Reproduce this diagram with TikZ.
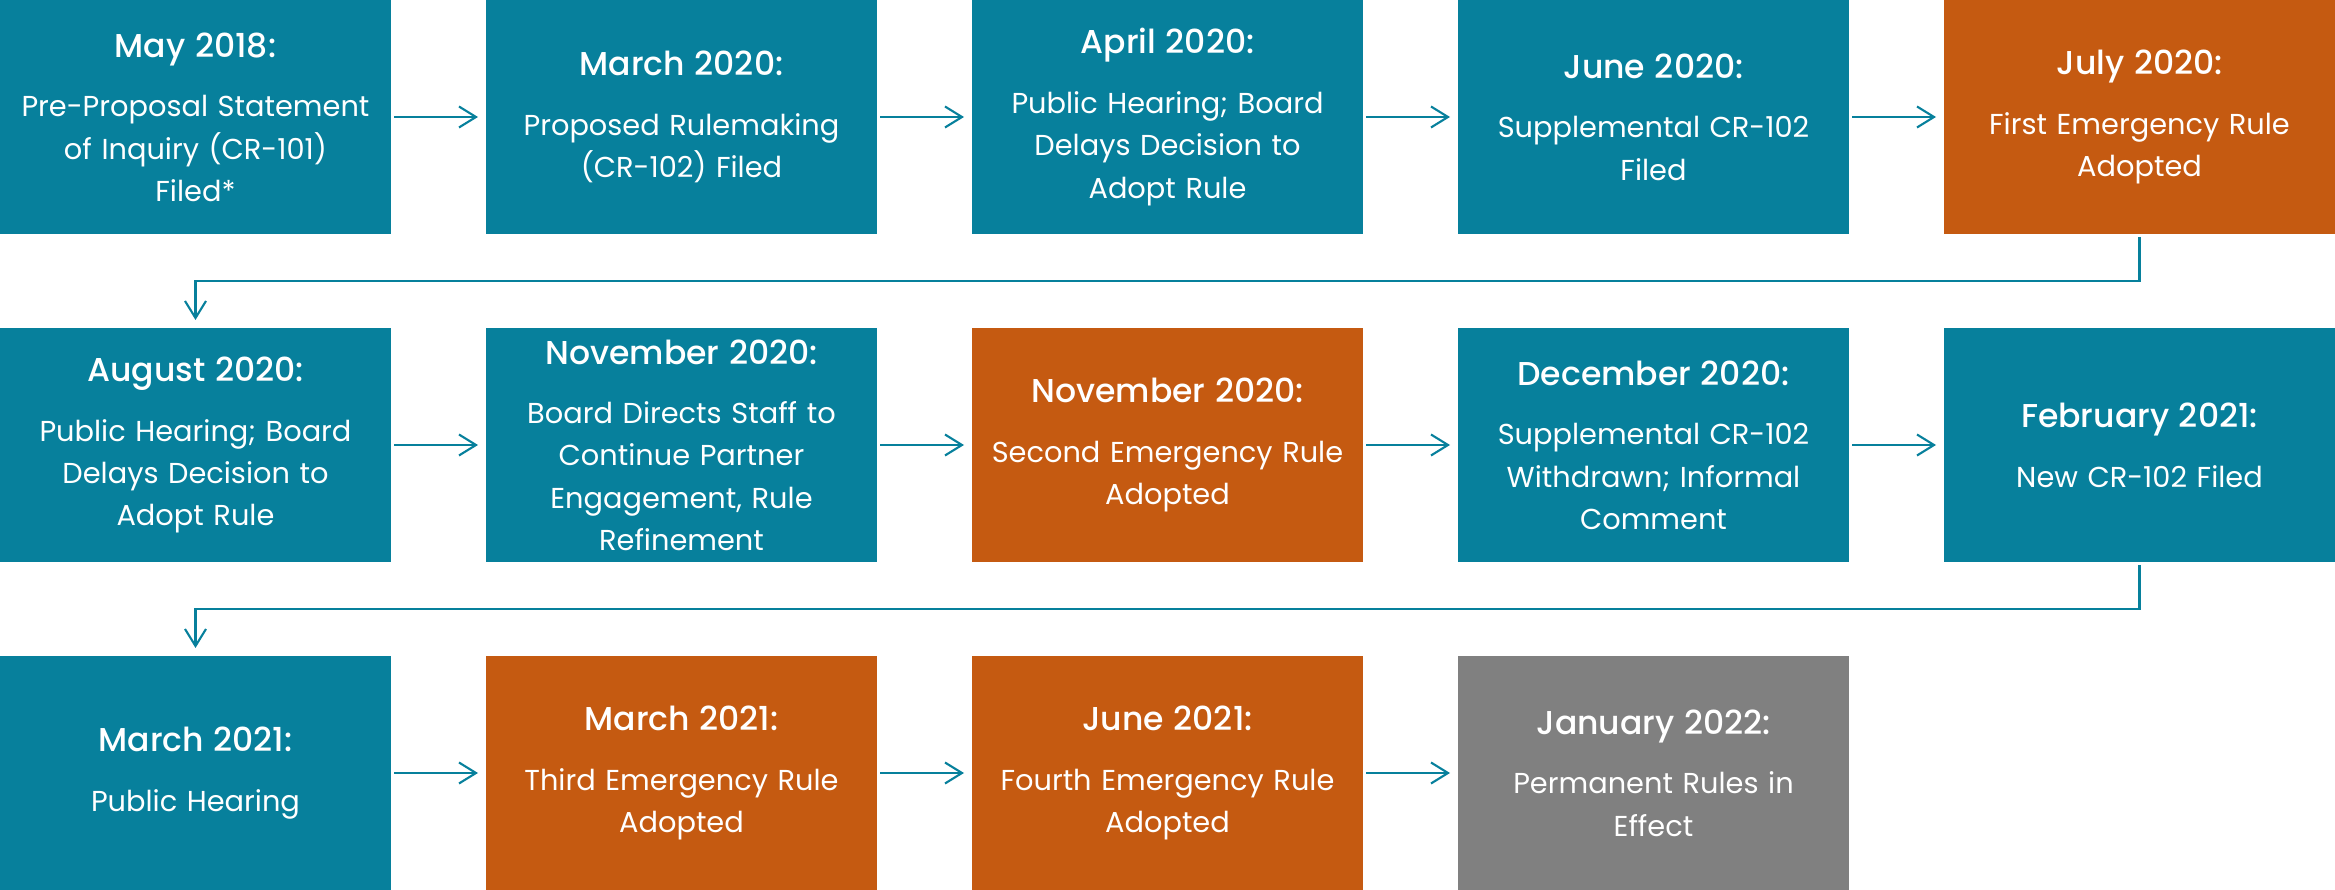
\documentclass[tikz,border=0pt]{standalone}
\usepackage{fontspec}
\setmainfont{Poppins}[BoldFont={Poppins Medium}]
\usetikzlibrary{positioning, arrows.meta}

\definecolor{tealbox}{HTML}{07809C}
\definecolor{rustbox}{HTML}{C55A11}
\definecolor{greybox}{HTML}{808080}

\tikzset{
  stage/.style={fill=tealbox, text=white, minimum width=3.91cm, minimum height=2.34cm,
    text width=3.85cm, align=center, inner sep=0pt, outer sep=0pt,
    font=\fontsize{8.2}{12}\selectfont},
  emergency/.style={stage, fill=rustbox},
  final/.style={stage, fill=greybox},
  flow/.style={draw=tealbox, line width=0.6pt, -{Straight Barb[length=1.7mm, width=2.1mm]},
    shorten <=0.3mm, shorten >=0.8mm},
}
% date line on top of each box
\newcommand{\when}[1]{{\fontsize{9.4}{12}\selectfont\bfseries #1}\\[5pt]}

\begin{document}
\begin{tikzpicture}[node distance=0.95cm and 0.95cm]
\useasboundingbox (0,0) rectangle (23.35,-8.90);

% first row
\node[stage, anchor=north west] (may18) at (0,0) {\when{May 2018:}Pre-Proposal Statement\\of Inquiry (CR-101)\\Filed*};
\node[stage, right=of may18] (mar20) {\when{March 2020:}Proposed Rulemaking\\(CR-102) Filed};
\node[stage, right=of mar20] (apr20) {\when{April 2020:}Public Hearing; Board\\Delays Decision to\\Adopt Rule};
\node[stage, right=of apr20] (jun20) {\when{June 2020:}Supplemental CR-102\\Filed};
\node[emergency, right=of jun20] (jul20) {\when{July 2020:}First Emergency Rule\\Adopted};

% second row
\node[stage, below=0.94cm of may18] (aug20) {\when{August 2020:}Public Hearing; Board\\Delays Decision to\\Adopt Rule};
\node[stage, right=of aug20] (nov20) {\when{November 2020:}Board Directs Staff to\\Continue Partner\\Engagement, Rule\\Refinement};
\node[emergency, right=of nov20] (nov20e) {\when{November 2020:}Second Emergency Rule\\Adopted};
\node[stage, right=of nov20e] (dec20) {\when{December 2020:}Supplemental CR-102\\Withdrawn; Informal\\Comment};
\node[stage, right=of dec20] (feb21) {\when{February 2021:}New CR-102 Filed};

% third row
\node[stage, below=0.94cm of aug20] (mar21) {\when{March 2021:}Public Hearing};
\node[emergency, right=of mar21] (mar21e) {\when{March 2021:}Third Emergency Rule\\Adopted};
\node[emergency, right=of mar21e] (jun21e) {\when{June 2021:}Fourth Emergency Rule\\Adopted};
\node[final, right=of jun21e] (jan22) {\when{January 2022:}Permanent Rules in\\Effect};

% arrows along each row
\draw[flow] (may18) -- (mar20);
\draw[flow] (mar20) -- (apr20);
\draw[flow] (apr20) -- (jun20);
\draw[flow] (jun20) -- (jul20);
\draw[flow] (aug20) -- (nov20);
\draw[flow] (nov20) -- (nov20e);
\draw[flow] (nov20e) -- (dec20);
\draw[flow] (dec20) -- (feb21);
\draw[flow] (mar21) -- (mar21e);
\draw[flow] (mar21e) -- (jun21e);
\draw[flow] (jun21e) -- (jan22);

% wrap round to the next row
\draw[flow] (jul20.south) -- ++(0,-0.47) -| (aug20.north);
\draw[flow] (feb21.south) -- ++(0,-0.47) -| (mar21.north);
\end{tikzpicture}
\end{document}
